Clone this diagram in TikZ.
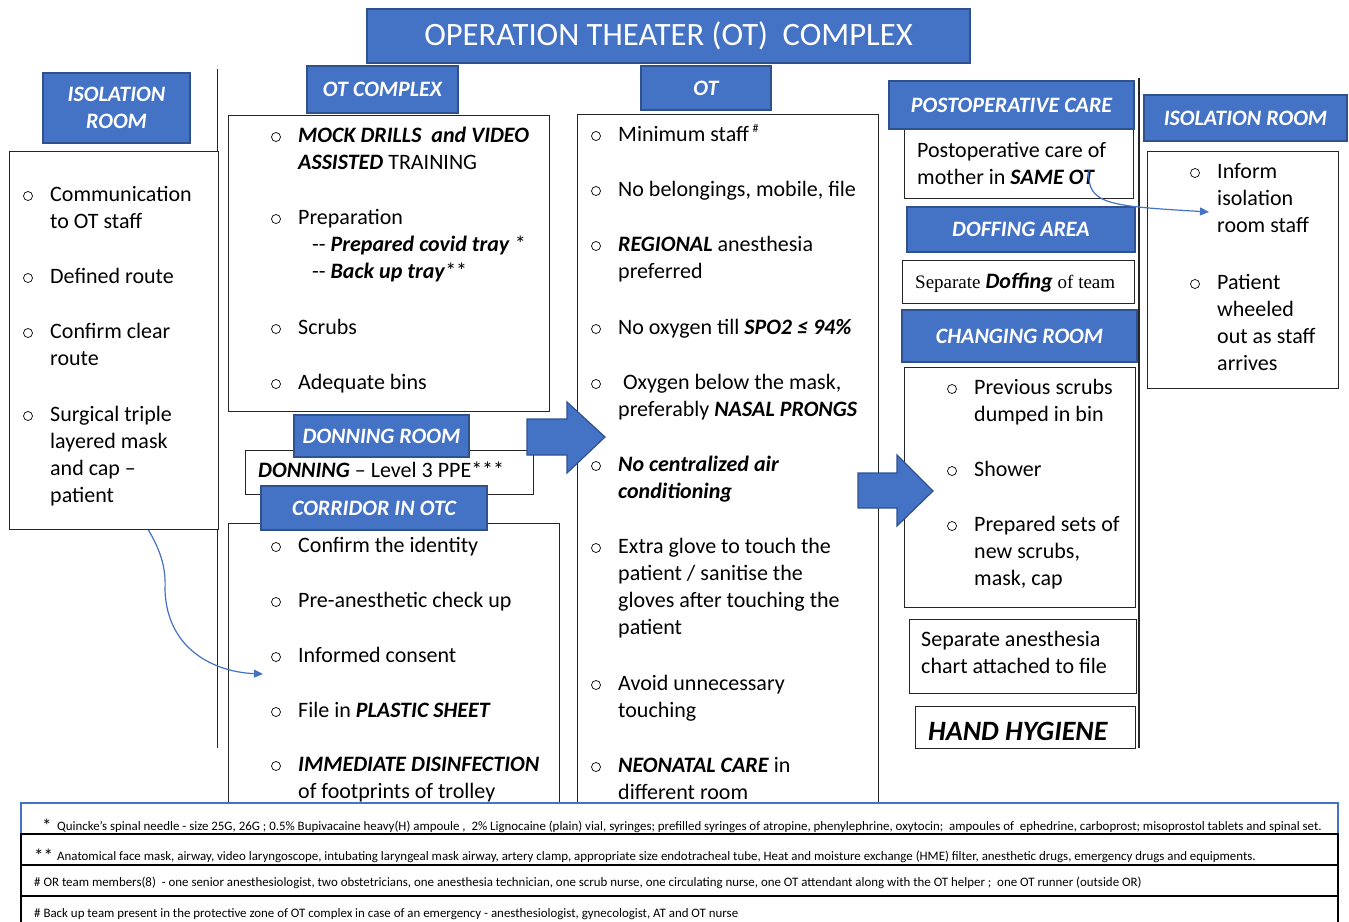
\documentclass[tikz,border=0pt]{standalone}
\usepackage{fontspec}
\setmainfont{Carlito}
\newfontfamily\timesf{Liberation Serif}
\usetikzlibrary{arrows.meta,calc}
\definecolor{hblue}{HTML}{4472C4}
\definecolor{hbord}{HTML}{2F528F}
\newcommand\bi[1]{\textbf{\textit{#1}}}
\newcommand\ml[1]{\begin{tabular}[t]{@{}l@{}}#1\end{tabular}}
\newcommand\bpoint[4]{%
  \node[bul] (#1o) at (#2,#3-5) {};
  \node[txt] (#1) at (#2+22,#3) {\ml{#4}};}
\begin{document}
\begin{tikzpicture}[x=1pt,y=-1pt,
 hdr/.style={draw=hbord, fill=hblue, line width=1.6, text=white, inner sep=0,
   font=\fontsize{22}{27}\selectfont\bfseries\itshape, align=center},
 box/.style={draw=black!85, line width=1, fill=white, inner sep=0, anchor=north west},
 txt/.style={inner sep=0, anchor=base west, font=\fontsize{22}{27}\selectfont},
 bul/.style={circle, draw=black, line width=0.7, minimum size=9, inner sep=0},
 conn/.style={draw=hblue, line width=1.2, -{Triangle[length=9,width=8]}},
 barrow/.style={draw=hbord, fill=hblue, line width=1.2, line join=miter},
 fn/.style={inner sep=0, anchor=base west, font=\fontsize{12.9}{15}\selectfont},
 fnstar/.style={inner sep=0, anchor=base west, font=\fontsize{19}{19}\selectfont},
 vline/.style={draw=black!85, line width=1.3},
]
\useasboundingbox[fill=white] (0,0) rectangle (1349,921);

% separator lines
\draw[vline] (217.5,69) -- (217.5,748);
\draw[vline] (1139,78) -- (1139,748);

% content boxes
\node[box, minimum width=209, minimum height=378] (isoL) at (9,151) {};
\node[box, minimum width=321, minimum height=296] (otc) at (228,115) {};
\node[box, minimum width=288, minimum height=44] (don) at (245,450) {};
\node[box, minimum width=331, minimum height=282] (cor) at (228,523) {};
\node[box, minimum width=301, minimum height=691] (ot) at (577,114) {};
\node[box, minimum width=229, minimum height=69] (post) at (904,129) {};
\node[box, minimum width=232, minimum height=43] (doff) at (902,260) {};
\node[box, minimum width=231, minimum height=240] (chg) at (904,367) {};
\node[box, minimum width=227, minimum height=74] (chart) at (909,619) {};
\node[box, minimum width=220, minimum height=42] (hand) at (915,706) {};
\node[box, minimum width=191, minimum height=237] (isoR) at (1147,151) {};

% headers
\node[hdr, minimum width=603, minimum height=54, font=\fontsize{32.6}{38}\selectfont] (title) at (668.5,36) {OPERATION THEATER (OT)\ \ COMPLEX};
\node[hdr, minimum width=147, minimum height=70] (isoLh) at (116.5,108) {ISOLATION\\ROOM};
\node[hdr, minimum width=151, minimum height=47] (otch) at (382.5,89.5) {OT COMPLEX};
\node[hdr, minimum width=130, minimum height=44] (oth) at (706,88) {OT};
\node[hdr, minimum width=245, minimum height=48] (posth) at (1011.5,105) {POSTOPERATIVE CARE};
\node[hdr, minimum width=203, minimum height=46] (isoRh) at (1245.5,118) {ISOLATION ROOM};
\node[hdr, minimum width=228, minimum height=45] (doffh) at (1021,229.5) {DOFFING AREA};
\node[hdr, minimum width=235, minimum height=52] (chgh) at (1019.5,336) {CHANGING ROOM};
\node[hdr, minimum width=175, minimum height=42] (donh) at (381.5,436) {DONNING ROOM};
\node[hdr, minimum width=226, minimum height=44] (corh) at (374,508) {CORRIDOR IN OTC};

% left isolation room
\bpoint{l1}{28}{201}{Communication\\to OT staff}
\bpoint{l2}{28}{283}{Defined route}
\bpoint{l3}{28}{338}{Confirm clear\\route}
\bpoint{l4}{28}{421}{Surgical triple\\layered mask\\and cap --\\patient}

% OT complex
\bpoint{c1}{276}{142}{\bi{MOCK DRILLS\ \ and VIDEO}\\\bi{ASSISTED} TRAINING}
\bpoint{c2}{276}{224}{Preparation}
\node[txt] (c2a) at (312,251) {\ml{-{}- \bi{Prepared covid tray} *\\-{}- \bi{Back up tray}**}};
\bpoint{c3}{276}{334}{Scrubs}
\bpoint{c4}{276}{389}{Adequate bins}

% donning
\node[txt] (dont) at (258,477) {\bi{DONNING} -- Level 3 PPE***};

% corridor
\bpoint{r1}{276}{552}{Confirm the identity}
\bpoint{r2}{276}{607}{Pre-anesthetic check up}
\bpoint{r3}{276}{662}{Informed consent}
\bpoint{r4}{276}{717}{File in \bi{PLASTIC SHEET}}
\bpoint{r5}{276}{771}{\bi{IMMEDIATE DISINFECTION}\\of footprints of trolley}

% OT
\bpoint{o1}{596}{141}{Minimum staff\,\raisebox{9pt}{\fontsize{12}{12}\selectfont\#}}
\bpoint{o2}{596}{196}{No belongings, mobile, file}
\bpoint{o3}{596}{251}{\bi{REGIONAL} anesthesia\\preferred}
\bpoint{o4}{596}{334}{No oxygen till \bi{SPO2 ≤ 94\%}}
\bpoint{o5}{596}{389}{\hspace{5pt}Oxygen below the mask,\\preferably \bi{NASAL PRONGS}}
\bpoint{o6}{596}{471}{\bi{No centralized air}\\\bi{conditioning}}
\bpoint{o7}{596}{553}{Extra glove to touch the\\patient / sanitise the\\gloves after touching the\\patient}
\bpoint{o8}{596}{690}{Avoid unnecessary\\touching}
\bpoint{o9}{596}{772}{\bi{NEONATAL CARE} in\\different room}

% right column
\node[txt] (postt) at (917,157) {\ml{Postoperative care of\\mother in \bi{SAME OT}}};
\node[txt] (dofft) at (915,288) {{\timesf\fontsize{19}{27}\selectfont Separate} \bi{Doffing} {\timesf\fontsize{19}{27}\selectfont of team}};
\bpoint{g1}{952}{394}{Previous scrubs\\dumped in bin}
\bpoint{g2}{952}{476}{Shower}
\bpoint{g3}{952}{531}{Prepared sets of\\new scrubs,\\mask, cap}
\node[txt] (chartt) at (921,646) {\ml{Separate anesthesia\\chart attached to file}};
\node[txt, font=\fontsize{28}{30}\selectfont\bfseries\itshape] (handt) at (928,740) {HAND HYGIENE};

% right isolation room
\bpoint{i1}{1195}{178}{Inform\\isolation\\room staff}
\bpoint{i2}{1195}{289}{Patient\\wheeled\\out as staff\\arrives}

% block arrows
\draw[barrow] (527,419) -- (567,419) -- (567,402) -- (605,437) -- (567,473) -- (567,455) -- (527,455) -- cycle;
\draw[barrow] (858,473) -- (897,473) -- (897,455) -- (933,491) -- (897,526) -- (897,508) -- (858,508) -- cycle;

% connectors
\coordinate (c1s) at (1089,170);
\coordinate (c1e) at (1209,212);
\draw[conn] (c1s) .. controls (1086,205) and (1110,206) .. (c1e);
\coordinate (c2s) at ($(isoL.south west)!0.664!(isoL.south east)$);
\coordinate (c2m) at (165,590);
\coordinate (c2e) at (263,674);
\draw[conn] (c2s) .. controls (162,553) and (166,570) .. (c2m) .. controls (167,650) and (215,672) .. (c2e);

% footnotes
\draw[draw=hblue, line width=1.6, fill=white] (21,803) rectangle (1338,925);
\draw[draw=black, line width=1.8] (21,834) rectangle (1338,865);
\draw[draw=black, line width=1.8] (21,865) rectangle (1338,896);
\draw[draw=black, line width=1.8] (21,896) rectangle (1338,925);
\node[fnstar] (s1) at (42,832) {*};
\node[fn] (f1) at (57,830) {Quincke’s spinal needle - size 25G, 26G ; 0.5\% Bupivacaine heavy(H) ampoule ,\ \ 2\% Lignocaine (plain) vial, syringes; prefilled syringes of atropine, phenylephrine, oxytocin;\ \ ampoules of\ \ ephedrine, carboprost; misoprostol tablets and spinal set.};
\node[fnstar] (s2) at (34,862) {**};
\node[fn] (f2) at (57,860) {Anatomical face mask, airway, video laryngoscope, intubating laryngeal mask airway, artery clamp, appropriate size endotracheal tube, Heat and moisture exchange (HME) filter, anesthetic drugs, emergency drugs and equipments.};
\node[fn] (f3) at (34,886) {\# OR team members(8)\ \ - one senior anesthesiologist, two obstetricians, one anesthesia technician, one scrub nurse, one circulating nurse, one OT attendant along with the OT helper ;\ \ one OT runner (outside OR)};
\node[fn] (f4) at (34,917) {\# Back up team present in the protective zone of OT complex in case of an emergency - anesthesiologist, gynecologist, AT and OT nurse};
\end{tikzpicture}
\end{document}
